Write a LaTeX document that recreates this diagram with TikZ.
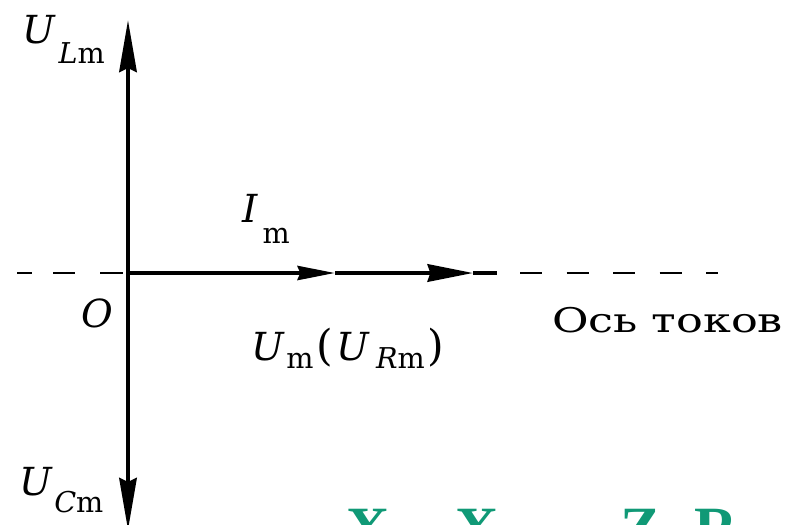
\documentclass[tikz,border=0pt]{standalone}
\usepackage{fontspec}
\setmainfont{DejaVu Serif}
\newfontfamily\grfont{Liberation Serif}
\usetikzlibrary{arrows.meta}
\definecolor{grn}{RGB}{16,153,118}
\newcommand\msz{\fontsize{29}{32}\selectfont}
\newcommand\ssz{\fontsize{21.5}{24}\selectfont}
\newcommand\psz{\fontsize{32}{34}\selectfont}
\newcommand\gsz{\fontsize{45}{50}\selectfont}
\begin{document}
\begin{tikzpicture}[x=0.75pt,y=-0.75pt,
  axisline/.style={line width=3.3pt},
  vecline/.style={line width=3.1pt},
  dashline/.style={line width=1.6pt},
  lbl/.style={anchor=base west, inner sep=0pt, outer sep=0pt},
  bighead/.style={-{Stealth[length=39pt,width=13pt,inset=3pt]}},
  headone/.style={-{Stealth[length=28pt,width=10.5pt,inset=2pt]}},
  headtwo/.style={-{Stealth[length=34pt,width=13pt,inset=2pt]}},
  green text/.style={lbl, text=grn, font=\grfont\bfseries\gsz}]
\useasboundingbox (0,0) rectangle (790,525);
\clip (0,0) rectangle (790,525);
\fill[white] (0,0) rectangle (790,525);
% coordinates
\coordinate (O) at (128,273);
\coordinate (top) at (128,20);
\coordinate (bot) at (128,530);
\coordinate (a1) at (335,273);
\coordinate (a2) at (473,273);
\coordinate (e) at (497,273);
\coordinate (dL) at (17,273);
\coordinate (dR) at (520,273);
\coordinate (dE) at (718,273);
% dashed axis
\draw[dashline, dash pattern=on 11.25pt off 15.75pt on 16.5pt off 18.75pt on 17.25pt off 10pt] (dL) -- (O);
\draw[dashline, dash pattern=on 16.5pt off 18.4pt] (dR) -- (dE);
% vertical vectors
\draw[axisline, bighead] (O) -- (top);
\draw[axisline, bighead] (O) -- (bot);
% horizontal vectors
\draw[vecline, headone] (O) -- (a1);
\draw[vecline, headtwo] (a1) -- (a2);
\draw[vecline] (a2) -- (e);
% labels
\node[lbl] (ULm) at (22,43) {\msz\itshape U\kern3pt\raisebox{-15pt}{\ssz L\upshape m}};
\node[lbl] (UCm) at (19,495) {\msz\itshape U\kern2pt\raisebox{-13pt}{\ssz C\upshape m}};
\node[lbl] (Im) at (242,222) {\msz\itshape I\kern4pt\raisebox{-16pt}{\ssz\upshape m}};
\node[lbl] (Ol) at (81,327) {\msz\itshape O};
\node[lbl] (Um) at (251,360) {\msz\itshape U\kern2pt\raisebox{-6pt}{\ssz\upshape m}\kern2pt{\psz\upshape(}\kern3pt\itshape U\kern5pt\raisebox{-6pt}{\ssz R\upshape m}\kern2pt{\psz\upshape)}};
\node[lbl] (axl) at (552,332) {\scalebox{1.31}[1]{\fontsize{25.5}{28}\selectfont Ось токов}};
% green formula (cut off by the picture's lower edge, as in the reference)
\node[green text] (g1) at (346,548) {X\textsubscript{L}\raisebox{-10pt}{=}};
\node[green text] (g2) at (455,548) {X\textsubscript{C}\,\raisebox{-4pt}{$\rightarrow$}};
\node[green text] (g3) at (620,548) {Z\raisebox{-10pt}{=}R};
\end{tikzpicture}
\end{document}
